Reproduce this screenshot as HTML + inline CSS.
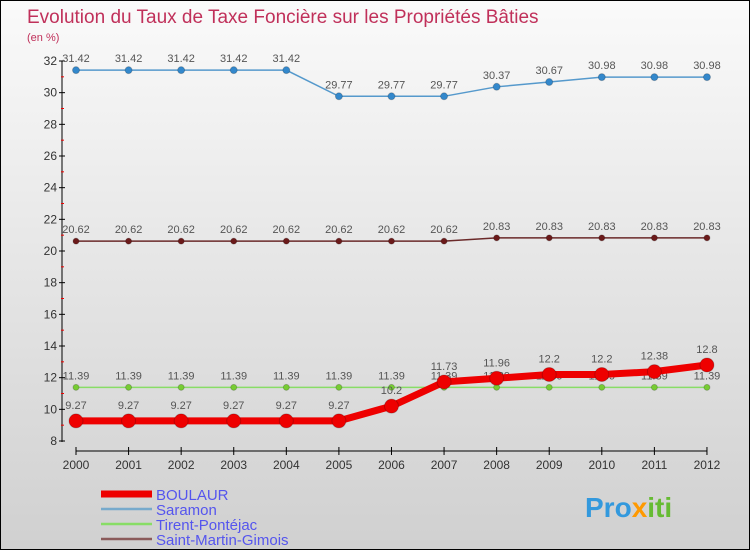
<!DOCTYPE html>
<html><head><meta charset="utf-8"><style>
body{margin:0}
#c{width:750px;height:550px;box-sizing:border-box;border:1px solid #000;background:linear-gradient(#fafafa,#d0d0d0);position:relative;overflow:hidden;font-family:"Liberation Sans",sans-serif}
</style></head><body>
<div id="c">
<svg id="s" width="748" height="548" style="position:absolute;left:0;top:0">
<text x="26" y="22" font-size="19" fill="#c0305a">Evolution du Taux de Taxe Foncière sur les Propriétés Bâties</text>
<text x="26" y="40" font-size="11" fill="#c0305a">(en %)</text>
<g id="g"></g>
<text x="584" y="516" font-size="28" font-weight="bold" fill="#3399dd">Pro<tspan fill="#ff9900">x</tspan><tspan fill="#66bb33">iti</tspan></text>
</svg>
</div>
<script>
const years=[2000,2001,2002,2003,2004,2005,2006,2007,2008,2009,2010,2011,2012];
const yTicks=[8,10,12,14,16,18,20,22,24,26,28,30,32];
const boulaur=[9.27,9.27,9.27,9.27,9.27,9.27,10.2,11.73,11.96,12.2,12.2,12.38,12.8];
const saramon=[31.42,31.42,31.42,31.42,31.42,29.77,29.77,29.77,30.37,30.67,30.98,30.98,30.98];
const tirent=[11.39,11.39,11.39,11.39,11.39,11.39,11.39,11.39,11.39,11.39,11.39,11.39,11.39];
const saint=[20.62,20.62,20.62,20.62,20.62,20.62,20.62,20.62,20.83,20.83,20.83,20.83,20.83];
const NS="http://www.w3.org/2000/svg",g=document.getElementById('g');
const X=i=>75+i*52.58, Y=v=>440-(v-8)*(380/24);
function mk(t,a,p){const e=document.createElementNS(NS,t);for(const k in a)e.setAttribute(k,a[k]);(p||g).appendChild(e);return e;}
let e=mk('line',{x1:61,y1:60,x2:61,y2:441,stroke:'#000'});


e=mk('line',{x1:75,y1:450,x2:706,y2:450,stroke:'#000'});


const yMax=yTicks[yTicks.length-1];
yTicks.forEach(v=>{mk('line',{x1:58,x2:64,y1:Y(v),y2:Y(v),stroke:'#000'});
if(v<yMax)mk('line',{x1:60,x2:63,y1:Y(v+1),y2:Y(v+1),stroke:'#e00'});
e=mk('text',{x:56,y:Y(v)+4,'font-size':12,'text-anchor':'end',fill:'#333'});e.textContent=v;

});
years.forEach((y,i)=>{mk('line',{x1:X(i),x2:X(i),y1:446,y2:454,stroke:'#000'});
e=mk('text',{x:X(i),y:468,'font-size':12,'text-anchor':'middle',fill:'#333'});e.textContent=y;

});
function series(d,col,w,r,name,fill){
const pl=mk('polyline',{points:d.map((v,i)=>X(i)+','+Y(v)).join(' '),fill:'none',stroke:col,'stroke-width':w});


d.forEach((v,i)=>{const c=mk('circle',{cx:X(i),cy:Y(v),r:r,fill:fill,stroke:'rgba(0,0,0,0.2)'});


const t=mk('text',{x:X(i),y:Y(v)-8-(r>5?4:0),'font-size':11,'text-anchor':'middle',fill:'#555'});t.textContent=v;

});}
series(saint,'#6b2a2a',1.5,3,'saint-martin-gimois','#6b1a1a');
series(tirent,'#88dd66',1.5,3,'tirent-pontejac','#77cc33');
series(saramon,'#5599cc',1.5,3.5,'saramon','#3388cc');
series(boulaur,'#ee0000',7,7,'boulaur','#ee0000');
const leg=[['BOULAUR','#ee0000',7],['Saramon','#77aacc',2.5],['Tirent-Pontéjac','#88dd66',2.5],['Saint-Martin-Gimois','#8a5a5a',2.5]];
leg.forEach((l,i)=>{const y=493+i*15;mk('line',{x1:100,x2:151,y1:y,y2:y,stroke:l[1],'stroke-width':l[2]});
const t=mk('text',{x:155,y:y+6,'font-size':15,fill:'#5555ee'});t.textContent=l[0];

});
</script>
</body></html>
